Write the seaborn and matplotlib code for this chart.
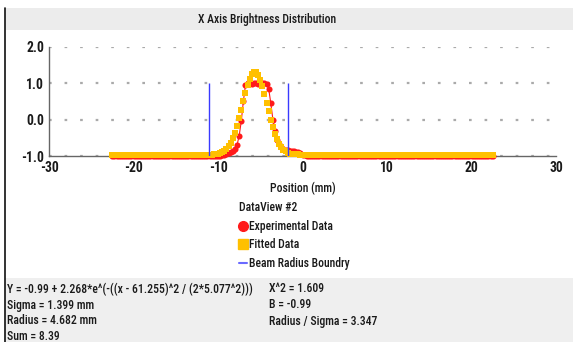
import numpy as np
import pandas as pd
import matplotlib
matplotlib.use("Agg")
import matplotlib.pyplot as plt
from matplotlib.lines import Line2D
from matplotlib.patches import Rectangle
from matplotlib import font_manager
from matplotlib.font_manager import FontProperties
import seaborn as sns

# ---------------- data ----------------
positions = np.linspace(-22.5, 22.5, 181)  # measurement grid (mm)

exp_peak = [-0.99, -0.98, -0.97, -0.95, -0.93, -0.90, -0.86, -0.80, -0.70, -0.45,
            -0.05, 0.50, 0.95, 1.00, 1.01, 0.99, 1.00, 1.00, 0.99, 1.00,
            1.01, 1.00, 0.98, 0.85, 0.45, 0.00, -0.30, -0.55, -0.68, -0.76,
            -0.81, -0.83, -0.84, -0.85, -0.86, -0.87, -0.88, -0.90, -0.93, -0.96,
            -0.98, -0.99, -1.00]
experimental = [-1.0] * 51 + exp_peak + [-1.0] * 87

fit_peak = [-0.960, -0.960, -0.960, -0.958, -0.953, -0.945, -0.928, -0.902, -0.865, -0.810,
            -0.737, -0.638, -0.510, -0.354, -0.168, 0.045, 0.276, 0.515, 0.747, 0.958,
            1.132, 1.254, 1.315, 1.308, 1.235, 1.100, 0.918, 0.702, 0.467, 0.229,
            0.001, -0.207, -0.388, -0.539, -0.660, -0.754, -0.823, -0.874, -0.908, -0.932,
            -0.945, -0.952, -0.956, -0.958, -0.960, -0.960]
fitted = [-0.96] * 45 + fit_peak + [-0.96] * 90

boundary_x = [-11.03, -1.67]
boundary_low, boundary_high = -1.0, 1.0

x_ticks = [-30, -20, -10, 0, 10, 20, 30]
y_ticks = [-1.0, 0.0, 1.0, 2.0]
y_tick_labels = ["-1.0", "0.0", "1.0", "2.0"]

title = "X Axis Brightness Distribution"
xlabel = "Position (mm)"
legend_title = "DataView #2"
legend_labels = ["Experimental Data", "Fitted Data", "Beam Radius Boundry"]
left_notes = ["Y = -0.99 + 2.268*e^(-((x - 61.255)^2 / (2*5.077^2)))",
              "Sigma = 1.399 mm",
              "Radius = 4.682 mm",
              "Sum = 8.39"]
right_notes = ["X^2 = 1.609", "B = -0.99", "Radius / Sigma = 3.347"]

df = pd.DataFrame({"x": positions, "exp": experimental, "fit": fitted})

# ---------------- style ----------------
sns.set_theme(style="white")
plt.rcParams["font.family"] = ["DejaVu Sans"]


def _is_condensed(f):
    st = f.stretch
    if isinstance(st, str):
        if "condensed" in st.lower() or "narrow" in st.lower():
            return True
    elif isinstance(st, (int, float)) and st < 500:
        return True
    nm = f.name.lower()
    return "condensed" in nm or "narrow" in nm


def _weight(f):
    w = f.weight
    if isinstance(w, str):
        return {"bold": 700, "normal": 400, "regular": 400, "medium": 500,
                "light": 300}.get(w.lower(), 400)
    return w


prefs = ["Liberation Sans", "Roboto", "Open Sans", "Noto Sans", "DejaVu Sans", "Lato", "Inter"]
cands = [f for f in font_manager.fontManager.ttflist
         if _is_condensed(f) and f.style == "normal"]
reg_path, bold_path = None, None
for p in prefs:
    fam = [f for f in cands if f.name.startswith(p) and "mono" not in f.name.lower()
           and "serif" not in f.name.lower()]
    if fam:
        regs = sorted(fam, key=lambda f: (abs(_weight(f) - 500), _weight(f)))
        bolds = sorted(fam, key=lambda f: abs(_weight(f) - 700))
        reg_path, bold_path = regs[0].fname, bolds[0].fname
        break

if reg_path is None:
    def FP(size, bold=False):
        return FontProperties(family="Liberation Sans", size=size * 0.85,
                              weight="bold" if bold else "normal")
else:
    def FP(size, bold=False):
        return FontProperties(fname=bold_path if bold else reg_path, size=size)

W, H = 573, 342
fig = plt.figure(figsize=(W / 100, H / 100), dpi=100)
fig.patch.set_facecolor("white")


def fx(px):
    return px / W


def fy(py):
    return 1 - py / H


TXT = "#1a1a1a"

# panels / border
fig.add_artist(Rectangle((fx(5), fy(30)), fx(568), 22 / H, transform=fig.transFigure,
                         facecolor="#ececec", edgecolor="none", zorder=0))
fig.add_artist(Rectangle((fx(5), 0), fx(568), fy(278), transform=fig.transFigure,
                         facecolor="#efefef", edgecolor="none", zorder=0))
fig.add_artist(Line2D([fx(5), fx(5)], [0, fy(8)], transform=fig.transFigure,
                      color="#111111", lw=1.2))

fig.text(fx(267), fy(19), title, ha="center", va="center", fontproperties=FP(8.4),
         color=TXT)

ax = fig.add_axes([fx(49), fy(156), fx(507), 109 / H])
ax.set_facecolor("none")

sns.lineplot(data=df, x="x", y="exp", ax=ax, color="#ff1a1a", linewidth=0.8,
             marker="o", markersize=4.4, markeredgewidth=0, legend=False,
             clip_on=False, zorder=3)
sns.scatterplot(data=df, x="x", y="fit", ax=ax, color="#ffc000", marker="s", s=15,
                linewidth=0, legend=False, clip_on=False, zorder=4)
ax.vlines(boundary_x, boundary_low, boundary_high, colors="#3a3aff", linewidth=1, zorder=5)

ax.set_xlim(-30, 30)
ax.set_ylim(-1, 2)
ax.set_xticks(x_ticks)
ax.set_xticklabels([str(v) for v in x_ticks])
ax.set_yticks(y_ticks)
ax.set_yticklabels(y_tick_labels)
ax.set_xticks([-25, -15, -5, 5, 15, 25], minor=True)
ax.set_yticks([-0.5, 0.5, 1.5], minor=True)
ax.set_xlabel(xlabel, fontproperties=FP(8.4), color=TXT, labelpad=5)
ax.set_ylabel("")

for s in ["top", "right"]:
    ax.spines[s].set_visible(False)
for s in ["left", "bottom"]:
    ax.spines[s].set_color("#666666")
    ax.spines[s].set_linewidth(1)

ax.tick_params(which="both", direction="inout", length=5, width=1, color="#666666",
               labelcolor=TXT, pad=1)
ax.tick_params(which="minor", length=4)
for lab in ax.get_xticklabels() + ax.get_yticklabels():
    lab.set_fontproperties(FP(9.8, bold=True))

ax.grid(axis="y", which="major", color="#aaaaaa", linestyle=(0, (1.2, 5.8)), linewidth=1.6)
ax.grid(axis="x", visible=False)

handles = [Line2D([], [], color="#ff1a1a", marker="o", linestyle="none", markersize=7),
           Line2D([], [], color="#ffc000", marker="s", linestyle="none", markersize=7),
           Line2D([], [], color="#6a6aff", linewidth=1.5)]
leg = fig.legend(handles, legend_labels, title=legend_title, loc="upper left",
                 bbox_to_anchor=(fx(233), fy(195)), frameon=False, prop=FP(8.4),
                 title_fontproperties=FP(8.4), handlelength=0.7, handletextpad=0.2,
                 labelspacing=0.5, borderpad=0, alignment="left")
for t in leg.get_texts():
    t.set_color(TXT)
leg.get_title().set_color(TXT)

for i, t in enumerate(left_notes):
    fig.text(fx(7), fy(289 + 16 * i), t, ha="left", va="center", fontproperties=FP(8.5),
             color=TXT)
for i, t in enumerate(right_notes):
    fig.text(fx(269), fy(289 + 16 * i), t, ha="left", va="center", fontproperties=FP(8.5),
             color=TXT)

fig.savefig("out.png", dpi=100)
